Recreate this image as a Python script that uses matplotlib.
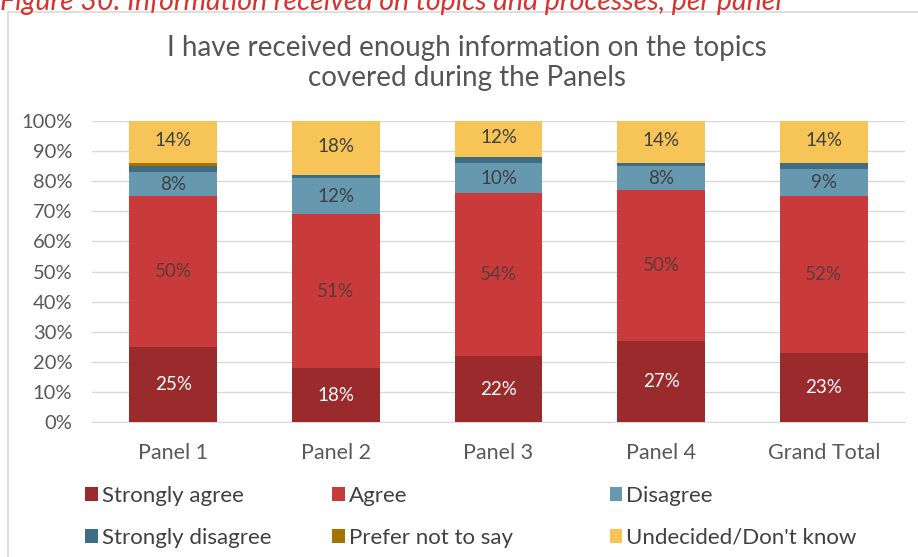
import numpy as np
import matplotlib.pyplot as plt
from matplotlib.patches import Rectangle

panels = ['Panel 1', 'Panel 2', 'Panel 3', 'Panel 4', 'Grand Total']
strongly_agree = [25, 18, 22, 27, 23]
agree = [50, 51, 54, 50, 52]
disagree = [8, 12, 10, 8, 9]
strongly_disagree = [2, 1, 2, 1, 2]
prefer_not = [1, 0, 0, 0, 0]
undecided = [14, 18, 12, 14, 14]

series = [
    ('Strongly agree', strongly_agree, '#9a2a2b', 'white'),
    ('Agree', agree, '#c83b3a', '#5a3a3a'),
    ('Disagree', disagree, '#6698b0', '#3f3f3f'),
    ('Strongly disagree', strongly_disagree, '#3f6d84', None),
    ('Prefer not to say', prefer_not, '#a67202', None),
    ('Undecided/Don\'t know', undecided, '#f6c457', '#3f3f3f'),
]

plt.rcParams['font.family'] = ['Lato', 'DejaVu Sans']

fig = plt.figure(figsize=(9.18, 5.57), dpi=100)
fig.patch.set_facecolor('white')

# chart border box
fig.patches.append(Rectangle((0.009, -0.01), 1.2, 0.988, transform=fig.transFigure,
                             fill=False, edgecolor='#d9d9d9', linewidth=1.2))

fig.text(0.0, 0.997, 'Figure 30: Information received on topics and processes, per panel',
         color='#d8322f', style='italic', fontsize=20.5, ha='left', va='center')

fig.text(0.509, 0.887, 'I have received enough information on the topics\ncovered during the Panels',
         ha='center', va='center', fontsize=20, color='#555555', linespacing=1.15)

ax = fig.add_axes([0.100, 0.242, 0.886, 0.541])
x = np.arange(len(panels))
bottom = np.zeros(len(panels))
handles = []
for name, vals, col, tcol in series:
    vals = np.array(vals, dtype=float)
    b = ax.bar(x, vals, 0.54, bottom=bottom, color=col, label=name, zorder=3)
    handles.append(b)
    if tcol is not None:
        for xi, v, bt in zip(x, vals, bottom):
            yoff = bt + v / 2
            if name == 'Undecided/Don\'t know':
                yoff = bt + v / 2 + 0.5
            ax.text(xi, yoff, f'{int(round(v))}%', ha='center', va='center',
                    color=tcol, fontsize=13.5, zorder=4)
    bottom += vals

ax.set_xlim(-0.5, len(panels) - 0.5)
ax.set_ylim(0, 100)
ax.set_yticks(np.arange(0, 101, 10))
ax.set_yticklabels([f'{t}%' for t in range(0, 101, 10)])
ax.set_xticks(x)
ax.set_xticklabels(panels)
ax.tick_params(axis='y', length=0, labelsize=14.5, colors='#595959', pad=14)
ax.tick_params(axis='x', length=0, labelsize=15.5, colors='#595959', pad=15)
ax.grid(axis='y', color='#d9d9d9', linewidth=1, zorder=0)
for s in ['top', 'right', 'left']:
    ax.spines[s].set_visible(False)
ax.spines['bottom'].set_color('#d9d9d9')

# legend: three columns, row-major order
col_x = [0.093, 0.362, 0.664]
for i, cx in enumerate(col_x):
    fig.legend(handles=[handles[i], handles[i + 3]], loc='upper left',
               bbox_to_anchor=(cx, 0.128), frameon=False, fontsize=16,
               handlelength=0.55, handleheight=0.55, handletextpad=0.2,
               labelspacing=1.0, borderpad=0, borderaxespad=0,
               labelcolor='#404040')

fig.savefig('out.png', dpi=100)
